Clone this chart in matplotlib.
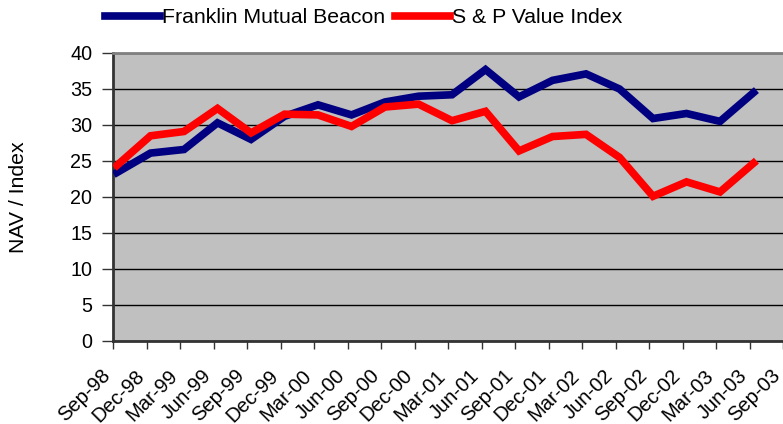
import matplotlib
matplotlib.use('Agg')
import matplotlib.pyplot as plt
import matplotlib.transforms as mtransforms
import numpy as np

plt.rcParams['font.family'] = ['Liberation Sans', 'DejaVu Sans']

quarters = ['Sep-98', 'Dec-98', 'Mar-99', 'Jun-99', 'Sep-99', 'Dec-99', 'Mar-00',
            'Jun-00', 'Sep-00', 'Dec-00', 'Mar-01', 'Jun-01', 'Sep-01', 'Dec-01',
            'Mar-02', 'Jun-02', 'Sep-02', 'Dec-02', 'Mar-03', 'Jun-03', 'Sep-03']

beacon = [23.4, 26.1, 26.6, 30.3, 28.0, 31.2, 32.8, 31.4, 33.2, 34.0,
          34.2, 37.7, 33.9, 36.2, 37.1, 35.0, 30.9, 31.6, 30.5, 34.5]
sp_value = [24.4, 28.5, 29.1, 32.3, 28.9, 31.5, 31.4, 29.8, 32.5, 32.9,
            30.6, 31.9, 26.4, 28.4, 28.7, 25.5, 20.1, 22.1, 20.7, 24.7]

fig = plt.figure(figsize=(7.83, 4.24), dpi=100)
ax = fig.add_axes([113 / 783, 1 - 341 / 424, 1 - 113 / 783, (341 - 53) / 424])

ax.set_facecolor('#c0c0c0')
x = np.arange(len(beacon)) + 0.12
ax.plot(x, beacon, color='#000080', lw=5.5, solid_joinstyle='miter',
        label='Franklin Mutual Beacon', zorder=3)
ax.plot(x, sp_value, color='#ff0000', lw=5.5, solid_joinstyle='miter',
        label='S & P Value Index', zorder=3)

ax.set_xlim(0, len(quarters) - 1)
ax.set_ylim(0, 40)
ax.set_yticks(range(0, 41, 5))
ax.yaxis.grid(True, color='black', lw=1)
ax.set_axisbelow(True)

ax.set_xticks(range(len(quarters)))
ax.set_xticklabels(quarters, rotation=45, ha='right', rotation_mode='anchor', fontsize=14.5)
ax.tick_params(axis='y', labelsize=14.2, length=8, width=1, color='#333333', pad=7)
ax.tick_params(axis='x', length=6, width=1, color='#333333', pad=12)
# nudge the slanted labels left so the last one stays inside the figure
# (done after tick_params, which resets the label transforms)
shift = mtransforms.ScaledTranslation(-12 / 100, 0, fig.dpi_scale_trans)
for lab in ax.get_xticklabels():
    lab.set_transform(lab.get_transform() + shift)
ax.set_ylabel('NAV / Index', fontsize=15.3)
ax.yaxis.set_label_coords((28 - 113) / 670, 0.5)

ax.spines['top'].set_color('#808080')
ax.spines['top'].set_linewidth(2)
ax.spines['right'].set_visible(False)
ax.spines['left'].set_color('#333333')
ax.spines['left'].set_linewidth(2)
ax.spines['bottom'].set_color('#333333')
ax.spines['bottom'].set_linewidth(2)

fig.legend(loc='upper left', bbox_to_anchor=(105 / 783, 1 - 8 / 424), ncol=2, frameon=False,
           fontsize=15.3, handlelength=2.6, handletextpad=0.1, columnspacing=0.45,
           borderpad=0, borderaxespad=0)

fig.savefig('out.png', dpi=100)
